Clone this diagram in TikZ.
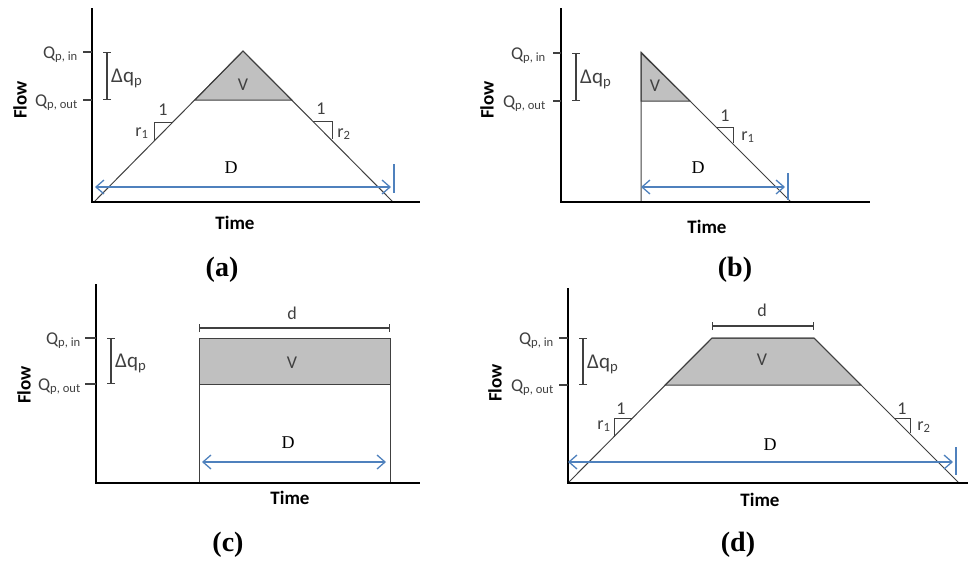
\documentclass[tikz,border=0pt]{standalone}
\usepackage{fontspec}
\setmainfont{Carlito}
\newfontfamily\tnrfont{Liberation Serif}
\usetikzlibrary{arrows.meta}
\definecolor{durblue}{RGB}{79,129,189}
\definecolor{lngray}{RGB}{64,64,64}
\definecolor{poolgray}{RGB}{192,192,192}
\newcommand{\qin}{Q\textsubscript{p, in}}
\newcommand{\qout}{Q\textsubscript{p, out}}
\newcommand{\dq}{Δq\textsubscript{p}}
\begin{document}
\begin{tikzpicture}[x=1pt,y=-1pt]
  \tikzstyle{every node}=[inner sep=1pt,text=lngray]
  \tikzstyle{axis}=[black,line width=2.4pt]
  \tikzstyle{curve}=[lngray,line width=1pt]
  \tikzstyle{pool}=[fill=poolgray,draw=lngray,line width=1pt]
  \tikzstyle{qtick}=[lngray,line width=1.2pt]
  \tikzstyle{bracket}=[lngray,line width=1.2pt,{Bar[width=8pt]}-{Bar[width=8pt]}]
  \tikzstyle{qlab}=[anchor=base east,font=\fontsize{18}{18}\selectfont]
  \tikzstyle{dqlab}=[anchor=west,font=\fontsize{21}{21}\selectfont]
  \tikzstyle{lab}=[font=\fontsize{18}{18}\selectfont]
  \tikzstyle{axlab}=[text=black,font=\bfseries\fontsize{19}{19}\selectfont]
  \tikzstyle{dlab}=[text=black,font=\tnrfont\fontsize{18}{18}\selectfont]
  \tikzstyle{dur}=[durblue,line width=1.3pt,
  {Straight Barb[length=8pt,width=14pt]}-{Straight Barb[length=8pt,width=14pt]}]
  \tikzstyle{durend}=[durblue,line width=1.3pt]
  \tikzstyle{panel}=[text=black,font=\tnrfont\bfseries\fontsize{28}{28}\selectfont]

  \useasboundingbox (0,0) rectangle (968,563);

  % (a) triangle
  \filldraw[pool] (195,100) -- (243,51) -- (292,100) -- cycle;
  \draw[curve] (94,202) -- (243,51) -- (393,202);
  \draw[axis] (92,8) -- (92,202) -- (420,202);
  \draw[qtick] (83,52) -- (92,52);
  \draw[qtick] (83,100) -- (92,100);
  \node[qlab] (a-qin) at (79,58) {\qin};
  \node[qlab] (a-qout) at (79,106) {\qout};
  \draw[bracket] (107,52) -- (107,100);
  \node[dqlab] (a-dq) at (110,78) {\dq};
  \node[lab] (a-v) at (243,85) {V};
  \draw[curve] (172,122) -- (154,122) -- (154,141);
  \node[lab] (a-one1) at (163,110) {1};
  \node[lab] (a-r1) at (142,133) {r\textsubscript{1}};
  \draw[curve] (313,121) -- (332,121) -- (332,139);
  \node[lab] (a-one2) at (321,109) {1};
  \node[lab] (a-r2) at (344,134) {r\textsubscript{2}};
  \node[dlab] (a-d) at (231,168) {D};
  \coordinate (a-ds) at (95,187);
  \coordinate (a-de) at (391,187);
  \draw[dur] (a-ds) -- (a-de);
  \draw[durend] (394,164) -- (394,193);
  \node[axlab] (a-time) at (235,223) {Time};
  \node[axlab,rotate=90] (a-flow) at (20,100) {Flow};
  \node[panel] (a-cap) at (222,270) {(a)};

  % (b) instant peak
  \filldraw[pool] (641,53) -- (690,101) -- (641,101) -- cycle;
  \draw[curve] (641,202) -- (641,52) -- (791,202);
  \draw[axis] (561,8) -- (561,202) -- (870,202);
  \draw[qtick] (553,53) -- (561,53);
  \draw[qtick] (553,101) -- (561,101);
  \node[qlab] (b-qin) at (547,59) {\qin};
  \node[qlab] (b-qout) at (547,107) {\qout};
  \draw[bracket] (576,53) -- (576,101);
  \node[dqlab] (b-dq) at (579,79) {\dq};
  \node[lab] (b-v) at (655,86) {V};
  \draw[curve] (717,127) -- (733,127) -- (733,143);
  \node[lab] (b-one) at (725,116) {1};
  \node[lab] (b-r1) at (748,137) {r\textsubscript{1}};
  \node[dlab] (b-d) at (698,168) {D};
  \coordinate (b-ds) at (641,187);
  \coordinate (b-de) at (785,187);
  \draw[dur] (b-ds) -- (b-de);
  \draw[durend] (788,173) -- (788,200);
  \node[axlab] (b-time) at (707,227) {Time};
  \node[axlab,rotate=90] (b-flow) at (487,100) {Flow};
  \node[panel] (b-cap) at (735,270) {(b)};

  % (c) rectangle
  \filldraw[pool] (199,338) rectangle (390,384);
  \draw[curve] (199,483) -- (199,338) -- (390,338) -- (390,483);
  \draw[axis] (96,284) -- (96,483) -- (420,483);
  \draw[qtick] (85,338) -- (96,338);
  \draw[qtick] (85,384) -- (96,384);
  \node[qlab] (c-qin) at (82,344) {\qin};
  \node[qlab] (c-qout) at (82,390) {\qout};
  \draw[bracket] (111,338) -- (111,384);
  \node[dqlab] (c-dq) at (114,363) {\dq};
  \draw[bracket] (199,328) -- (390,328);
  \node[lab] (c-dd) at (292,313) {d};
  \node[lab] (c-v) at (292,363) {V};
  \node[dlab] (c-d) at (288,443) {D};
  \coordinate (c-ds) at (202,462);
  \coordinate (c-de) at (386,462);
  \draw[dur] (c-ds) -- (c-de);
  \node[axlab] (c-time) at (290,498) {Time};
  \node[axlab,rotate=90] (c-flow) at (24,385) {Flow};
  \node[panel] (c-cap) at (228,545) {(c)};

  % (d) trapezoid
  \filldraw[pool] (665,385) -- (712,338) -- (814,338) -- (861,385) -- cycle;
  \draw[curve] (568,483) -- (712,338) -- (814,338) -- (959,483);
  \draw[axis] (568,288) -- (568,483) -- (968,483);
  \draw[qtick] (559,338) -- (568,338);
  \draw[qtick] (559,385) -- (568,385);
  \node[qlab] (d-qin) at (555,344) {\qin};
  \node[qlab] (d-qout) at (555,391) {\qout};
  \draw[bracket] (583,338) -- (583,385);
  \node[dqlab] (d-dq) at (586,364) {\dq};
  \draw[bracket] (712,326) -- (814,326);
  \node[lab] (d-dd) at (762,310) {d};
  \node[lab] (d-v) at (762,360) {V};
  \draw[curve] (632,418) -- (614,418) -- (614,437);
  \node[lab] (d-one1) at (621,409) {1};
  \node[lab] (d-r1) at (604,426) {r\textsubscript{1}};
  \draw[curve] (895,418) -- (910,418) -- (910,433);
  \node[lab] (d-one2) at (902,409) {1};
  \node[lab] (d-r2) at (924,427) {r\textsubscript{2}};
  \node[dlab] (d-d) at (770,445) {D};
  \coordinate (d-ds) at (568,462);
  \coordinate (d-de) at (953,462);
  \draw[dur] (d-ds) -- (d-de);
  \draw[durend] (956,447) -- (956,475);
  \node[axlab] (d-time) at (760,500) {Time};
  \node[axlab,rotate=90] (d-flow) at (495,383) {Flow};
  \node[panel] (d-cap) at (738,545) {(d)};
\end{tikzpicture}
\end{document}
